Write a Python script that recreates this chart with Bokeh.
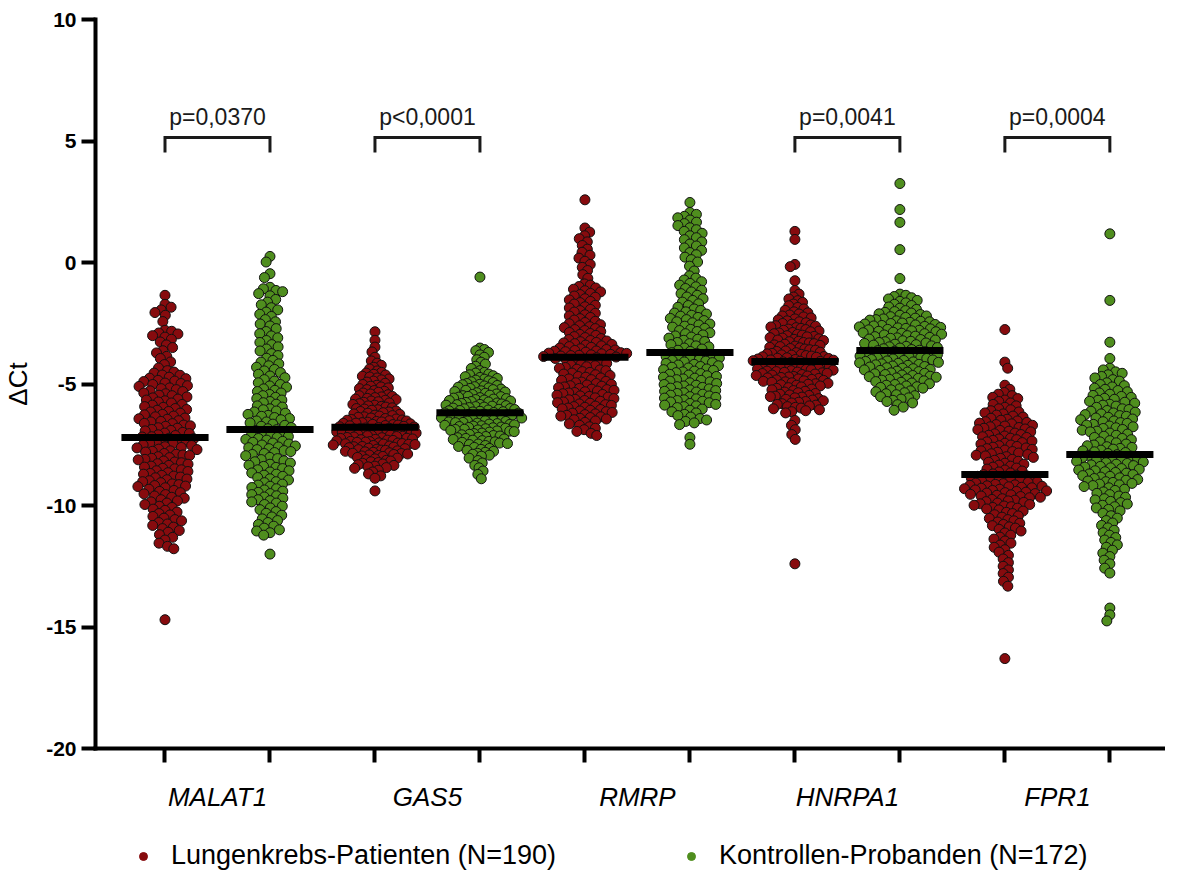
import math
import numpy as np
from bokeh.plotting import figure
from bokeh.layouts import column
from bokeh.models import FixedTicker, Legend, LegendItem
from bokeh.core.properties import value
from bokeh.embed import file_html
from bokeh.resources import INLINE

# ---------------- data (ΔCt values) ----------------
genes = ["MALAT1", "GAS5", "RMRP", "HNRPA1", "FPR1"]
group_labels = ["Lungenkrebs-Patienten (N=190)", "Kontrollen-Probanden (N=172)"]
y_ticks = [-20, -15, -10, -5, 0, 5, 10]

MALAT1_pat = """-1.35 -1.72 -1.84 -1.95 -2.06 -2.17 -2.43
-2.79 -2.83 -2.9 -2.94 -3.01 -3.07 -3.16 -3.27
-3.39 -3.5 -3.63 -3.72 -3.86 -3.95 -4.09 -4.2 -4.34 -4.45
-4.51 -4.55 -4.63 -4.64 -4.72 -4.76 -4.78 -4.85 -4.88 -4.9 -4.96 -4.98
-5.02 -5.07 -5.1 -5.16 -5.19 -5.23 -5.28 -5.31 -5.37 -5.4 -5.46 -5.48 -5.53 -5.57 -5.62 -5.66 -5.69 -5.74 -5.78 -5.84 -5.87 -5.93 -5.96
-6.01 -6.05 -6.08 -6.13 -6.15 -6.2 -6.25 -6.27 -6.32 -6.35 -6.4 -6.43 -6.45 -6.51 -6.54 -6.56 -6.62 -6.63 -6.69 -6.72 -6.74 -6.8 -6.82 -6.87 -6.91 -6.93 -6.99
-7.02 -7.04 -7.09 -7.12 -7.17 -7.18 -7.23 -7.25 -7.31 -7.34 -7.36 -7.41 -7.44 -7.46 -7.51 -7.53 -7.58 -7.61 -7.63 -7.68 -7.7 -7.75 -7.77 -7.8 -7.86 -7.89 -7.92 -7.94 -7.99
-8.03 -8.06 -8.1 -8.12 -8.17 -8.21 -8.24 -8.28 -8.3 -8.35 -8.38 -8.42 -8.47 -8.49 -8.53 -8.57 -8.6 -8.65 -8.68 -8.71 -8.76 -8.79 -8.83 -8.86 -8.91 -8.94 -8.98
-9.02 -9.06 -9.11 -9.14 -9.18 -9.2 -9.22 -9.27 -9.33 -9.38 -9.42 -9.47 -9.52 -9.55 -9.61 -9.66 -9.7 -9.76 -9.81 -9.85 -9.9 -9.96
-10.03 -10.08 -10.15 -10.2 -10.27 -10.33 -10.39 -10.45 -10.52 -10.58 -10.63 -10.7 -10.76 -10.82 -10.89 -10.95
-11.03 -11.1 -11.2 -11.31 -11.42 -11.55 -11.68 -11.78 -14.7"""

MALAT1_ctrl = """0.25 0.02 -0.46 -0.62 -1.02 -1.08 -1.15 -1.2 -1.28 -1.37 -1.52 -1.63 -1.74 -1.86 -1.95
-2.04 -2.13 -2.22 -2.35 -2.44 -2.53 -2.61 -2.72 -2.84 -2.93
-3.02 -3.1 -3.21 -3.29 -3.38 -3.47 -3.56 -3.64 -3.75 -3.83 -3.94
-4.03 -4.1 -4.17 -4.25 -4.31 -4.4 -4.46 -4.53 -4.6 -4.67 -4.74 -4.82 -4.88 -4.95
-5.02 -5.08 -5.13 -5.2 -5.26 -5.31 -5.37 -5.43 -5.48 -5.55 -5.6 -5.66 -5.72 -5.77 -5.83 -5.9 -5.95
-6.02 -6.06 -6.11 -6.15 -6.2 -6.25 -6.29 -6.33 -6.38 -6.42 -6.47 -6.52 -6.56 -6.6 -6.65 -6.7 -6.74 -6.79 -6.84 -6.88 -6.93
-7.01 -7.05 -7.09 -7.12 -7.16 -7.2 -7.24 -7.28 -7.31 -7.36 -7.4 -7.43 -7.47 -7.51 -7.55 -7.59 -7.62 -7.66 -7.7 -7.74 -7.78 -7.82 -7.86 -7.9 -7.95
-8.02 -8.07 -8.11 -8.16 -8.2 -8.25 -8.3 -8.34 -8.39 -8.43 -8.48 -8.53 -8.57 -8.62 -8.66 -8.71 -8.75 -8.8 -8.85 -8.9 -8.95
-9.02 -9.06 -9.12 -9.16 -9.21 -9.26 -9.31 -9.36 -9.41 -9.46 -9.51 -9.55 -9.6 -9.65 -9.7 -9.76 -9.8 -9.85 -9.9 -9.96
-10.03 -10.1 -10.17 -10.25 -10.32 -10.4 -10.47 -10.55 -10.62 -10.7 -10.78 -10.85 -10.93
-11.0 -11.05 -11.12 -11.22 -12.0"""

GAS5_pat = """-2.85 -3.2 -3.48 -3.68 -3.9 -4.05 -4.14 -4.23 -4.31 -4.38 -4.46
-4.52 -4.55 -4.6 -4.63 -4.68 -4.71 -4.75 -4.79 -4.83 -4.88 -4.92 -4.97
-5.02 -5.05 -5.09 -5.12 -5.16 -5.19 -5.23 -5.27 -5.3 -5.34 -5.37 -5.41 -5.44 -5.48
-5.51 -5.53 -5.56 -5.59 -5.62 -5.64 -5.67 -5.7 -5.73 -5.75 -5.78 -5.81 -5.84 -5.87 -5.9 -5.92 -5.95 -5.98
-6.01 -6.03 -6.06 -6.08 -6.11 -6.13 -6.15 -6.18 -6.2 -6.23 -6.25 -6.28 -6.3 -6.32 -6.35 -6.37 -6.4 -6.42 -6.44 -6.46 -6.48 -6.49
-6.51 -6.52 -6.54 -6.56 -6.57 -6.59 -6.61 -6.62 -6.64 -6.66 -6.67 -6.69 -6.71 -6.72 -6.74 -6.76 -6.77 -6.79 -6.81 -6.82 -6.84 -6.85 -6.87 -6.88 -6.9 -6.91 -6.93 -6.94 -6.95 -6.97 -6.98 -6.99
-7.01 -7.02 -7.04 -7.05 -7.07 -7.08 -7.1 -7.12 -7.13 -7.15 -7.16 -7.18 -7.2 -7.21 -7.23 -7.24 -7.26 -7.28 -7.29 -7.31 -7.32 -7.34 -7.36 -7.37 -7.39 -7.4 -7.42 -7.43 -7.45 -7.46 -7.47 -7.48 -7.49
-7.51 -7.53 -7.55 -7.57 -7.58 -7.6 -7.62 -7.64 -7.66 -7.68 -7.7 -7.72 -7.73 -7.75 -7.77 -7.79 -7.81 -7.83 -7.85 -7.86 -7.88 -7.9 -7.92 -7.94 -7.96 -7.98
-8.02 -8.05 -8.08 -8.11 -8.14 -8.17 -8.2 -8.23 -8.26 -8.29 -8.32 -8.35 -8.38 -8.41 -8.44 -8.47
-8.55 -8.62 -8.7 -8.78 -8.88 -9.4"""

GAS5_ctrl = """-0.6 -3.52 -3.58 -3.63 -3.7 -3.8 -3.9 -4.0 -4.1 -4.18 -4.27 -4.36 -4.45
-4.52 -4.55 -4.59 -4.62 -4.66 -4.7 -4.73 -4.77 -4.8 -4.84 -4.87 -4.91 -4.94 -4.98
-5.01 -5.03 -5.06 -5.08 -5.11 -5.13 -5.16 -5.18 -5.21 -5.23 -5.26 -5.28 -5.31 -5.33 -5.36 -5.38 -5.41 -5.43 -5.46 -5.48
-5.51 -5.52 -5.54 -5.56 -5.58 -5.6 -5.62 -5.64 -5.66 -5.68 -5.7 -5.72 -5.74 -5.76 -5.78 -5.8 -5.82 -5.84 -5.85 -5.87 -5.89 -5.91 -5.93 -5.95 -5.97 -5.99
-6.01 -6.02 -6.04 -6.05 -6.07 -6.09 -6.1 -6.12 -6.14 -6.15 -6.17 -6.19 -6.2 -6.22 -6.24 -6.25 -6.27 -6.29 -6.3 -6.32 -6.34 -6.35 -6.37 -6.39 -6.4 -6.42 -6.44 -6.45 -6.47 -6.49
-6.51 -6.52 -6.54 -6.56 -6.58 -6.59 -6.61 -6.63 -6.65 -6.66 -6.68 -6.7 -6.72 -6.73 -6.75 -6.77 -6.79 -6.8 -6.82 -6.84 -6.86 -6.87 -6.89 -6.91 -6.93 -6.94 -6.96 -6.98
-7.02 -7.04 -7.07 -7.09 -7.12 -7.14 -7.16 -7.19 -7.21 -7.24 -7.26 -7.28 -7.31 -7.33 -7.36 -7.38 -7.4 -7.43 -7.45 -7.47 -7.49
-7.53 -7.57 -7.61 -7.65 -7.69 -7.73 -7.77 -7.81 -7.85 -7.89 -7.93 -7.97
-8.05 -8.15 -8.25 -8.35 -8.45 -8.58 -8.72 -8.9"""

RMRP_pat = """2.58 1.42 1.25 1.1 0.98 0.85 0.7 0.55 0.42 0.3 0.18 0.05 -0.08 -0.2 -0.33 -0.5 -0.65
-0.88 -0.93 -0.99 -1.05 -1.1 -1.16 -1.21 -1.27 -1.32 -1.38 -1.43 -1.49 -1.54 -1.6 -1.65 -1.71 -1.76 -1.82 -1.87 -1.93 -1.98 -2.04 -2.09 -2.15 -2.2 -2.26 -2.31 -2.37 -2.42 -2.47
-2.52 -2.56 -2.6 -2.64 -2.68 -2.72 -2.76 -2.8 -2.84 -2.88 -2.92 -2.96 -3.0 -3.05 -3.09 -3.13 -3.17
-3.21 -3.23 -3.26 -3.29 -3.31 -3.34 -3.37 -3.4 -3.43 -3.46 -3.49 -3.52 -3.55 -3.58
-3.6 -3.62 -3.64 -3.65 -3.67 -3.69 -3.71 -3.73 -3.74 -3.76 -3.78 -3.8 -3.82 -3.83 -3.85 -3.87 -3.89
-3.92 -3.95 -3.98 -4.02 -4.05 -4.08 -4.12 -4.15 -4.19 -4.22 -4.25 -4.29 -4.32 -4.35 -4.39 -4.42 -4.45 -4.49 -4.52 -4.55 -4.59 -4.62 -4.65 -4.69 -4.72 -4.75 -4.79 -4.82 -4.85 -4.89 -4.92 -4.95 -4.98
-5.01 -5.04 -5.07 -5.09 -5.12 -5.15 -5.18 -5.21 -5.23 -5.26 -5.29 -5.32 -5.35 -5.37 -5.4 -5.43 -5.46 -5.49 -5.51 -5.54 -5.57 -5.6 -5.63 -5.65 -5.68 -5.71 -5.74 -5.77 -5.79 -5.82 -5.85 -5.88 -5.91 -5.93 -5.96 -5.99
-6.02 -6.05 -6.08 -6.11 -6.14 -6.17 -6.2 -6.23 -6.26 -6.29 -6.32 -6.35 -6.38 -6.41 -6.44 -6.47
-6.52 -6.58 -6.64 -6.7 -6.76 -6.82 -6.88 -6.95 -7.03 -7.12"""

RMRP_ctrl = """2.47 2.06 1.98 1.9 1.84 1.75 1.66 1.6 1.52 1.43 1.35 1.28 1.2 1.1 1.02 0.94 0.85 0.76 0.68 0.6 0.5 0.41 0.32 0.22 0.12 0.02 -0.15 -0.35 -0.55
-0.64 -0.72 -0.79 -0.86 -0.93 -1.0 -1.07 -1.14 -1.21 -1.28 -1.35 -1.42 -1.49 -1.56 -1.63 -1.7 -1.77 -1.84 -1.91 -1.97 -2.03 -2.08
-2.12 -2.17 -2.21 -2.26 -2.3 -2.35 -2.39 -2.44 -2.48 -2.53 -2.57 -2.62 -2.66 -2.71 -2.75 -2.8 -2.84 -2.89 -2.93 -2.98 -3.02 -3.07 -3.11 -3.16 -3.2 -3.25 -3.29 -3.34 -3.38 -3.43 -3.47 -3.52 -3.56 -3.61 -3.66
-3.71 -3.74 -3.77 -3.81 -3.84 -3.87 -3.9 -3.93 -3.96 -4.0 -4.03 -4.06 -4.09 -4.12 -4.15 -4.19 -4.22 -4.25 -4.28 -4.31 -4.34 -4.38 -4.41 -4.44 -4.47 -4.5 -4.53 -4.57 -4.6 -4.63 -4.66 -4.69 -4.72 -4.76 -4.79 -4.82 -4.85 -4.88 -4.91 -4.95 -4.98
-5.02 -5.05 -5.08 -5.11 -5.14 -5.17 -5.2 -5.24 -5.27 -5.3 -5.33 -5.36 -5.39 -5.42 -5.46 -5.49 -5.52 -5.55 -5.58 -5.61 -5.65 -5.68 -5.71 -5.74 -5.77 -5.8 -5.84 -5.87 -5.9 -5.93 -5.97
-6.03 -6.08 -6.14 -6.19 -6.25 -6.3 -6.36 -6.42 -6.48 -6.54 -6.6 -6.67 -7.2 -7.48"""

HNRPA1_pat = """1.28 0.95 -0.08 -0.17 -0.75 -1.15 -1.3 -1.42
-1.5 -1.57 -1.64 -1.71 -1.78 -1.85 -1.91 -1.97
-2.03 -2.07 -2.12 -2.16 -2.2 -2.24 -2.28 -2.32 -2.36 -2.4 -2.44 -2.48
-2.51 -2.54 -2.57 -2.6 -2.62 -2.65 -2.68 -2.71 -2.74 -2.76 -2.79 -2.82 -2.85 -2.88 -2.9 -2.93 -2.96 -2.99
-3.01 -3.04 -3.06 -3.09 -3.11 -3.14 -3.16 -3.19 -3.21 -3.24 -3.26 -3.29 -3.31 -3.34 -3.36 -3.39 -3.41 -3.44 -3.46 -3.49 -3.51 -3.54 -3.56 -3.59 -3.61 -3.64 -3.66 -3.69 -3.71 -3.74
-3.76 -3.78 -3.8 -3.81 -3.83 -3.85 -3.87 -3.88 -3.9 -3.92 -3.94 -3.95 -3.97 -3.99 -4.01 -4.02 -4.04 -4.06 -4.07 -4.09
-4.11 -4.13 -4.15 -4.16 -4.18 -4.2 -4.22 -4.24 -4.25 -4.27 -4.29 -4.31 -4.33 -4.34 -4.36 -4.38 -4.4 -4.42 -4.43 -4.45 -4.47 -4.49 -4.51 -4.52 -4.54 -4.56 -4.57 -4.59
-4.61 -4.63 -4.65 -4.67 -4.69 -4.71 -4.73 -4.75 -4.77 -4.79 -4.81 -4.83 -4.85 -4.87 -4.89 -4.91 -4.93 -4.95 -4.97 -4.99 -5.01 -5.03 -5.05 -5.08
-5.12 -5.15 -5.18 -5.21 -5.24 -5.27 -5.3 -5.33 -5.36 -5.39 -5.42 -5.45 -5.47 -5.5 -5.52 -5.54
-5.57 -5.6 -5.63 -5.66 -5.69 -5.72 -5.75 -5.78 -5.81 -5.84 -5.87 -5.9 -5.93 -5.96 -5.99 -6.02 -6.06 -6.1 -6.14 -6.19
-6.5 -6.7 -6.88 -7.08 -7.28 -12.4"""

HNRPA1_ctrl = """3.25 2.18 1.65 0.53 -0.66
-1.3 -1.35 -1.4 -1.45 -1.5 -1.56 -1.6 -1.66 -1.72 -1.77 -1.83 -1.88 -1.93 -1.98
-2.02 -2.05 -2.08 -2.11 -2.14 -2.17 -2.2 -2.23 -2.26 -2.29 -2.32 -2.35 -2.37 -2.4 -2.42 -2.44 -2.46 -2.49
-2.51 -2.53 -2.55 -2.57 -2.59 -2.61 -2.63 -2.65 -2.67 -2.69 -2.71 -2.73 -2.75 -2.77 -2.79 -2.81 -2.83 -2.85 -2.87 -2.89 -2.91 -2.93 -2.95 -2.98
-3.01 -3.03 -3.05 -3.08 -3.1 -3.12 -3.15 -3.17 -3.19 -3.22 -3.24 -3.26 -3.29 -3.31 -3.33 -3.36 -3.38 -3.4 -3.43 -3.45 -3.47 -3.5 -3.52 -3.55 -3.58
-3.61 -3.63 -3.65 -3.67 -3.69 -3.71 -3.73 -3.75 -3.77 -3.79 -3.81 -3.83 -3.85 -3.87 -3.89 -3.91 -3.93 -3.95 -3.97 -3.99 -4.01 -4.03 -4.05 -4.07 -4.09 -4.11 -4.13 -4.15 -4.17 -4.19
-4.21 -4.23 -4.26 -4.28 -4.3 -4.33 -4.35 -4.37 -4.4 -4.42 -4.44 -4.47 -4.49 -4.51 -4.54 -4.56 -4.58 -4.61 -4.63 -4.65 -4.68 -4.7 -4.72 -4.75 -4.77 -4.79 -4.81 -4.84
-4.87 -4.9 -4.93 -4.96 -4.99 -5.02 -5.05 -5.08 -5.11 -5.14 -5.17 -5.2 -5.24 -5.28 -5.32 -5.36 -5.4 -5.44 -5.48 -5.52 -5.57 -5.62 -5.67 -5.72 -5.78 -5.85 -5.95 -6.08"""

FPR1_pat = """-2.76 -4.1 -4.35 -5.05 -5.22 -5.35
-5.42 -5.48 -5.55 -5.6 -5.66 -5.72 -5.78 -5.84 -5.9 -5.96
-6.02 -6.06 -6.1 -6.15 -6.19 -6.23 -6.28 -6.32 -6.36 -6.41 -6.45 -6.49
-6.52 -6.55 -6.58 -6.61 -6.64 -6.67 -6.7 -6.73 -6.76 -6.79 -6.82 -6.85 -6.88 -6.91 -6.94 -6.97
-7.02 -7.05 -7.08 -7.11 -7.14 -7.17 -7.2 -7.23 -7.26 -7.29 -7.32 -7.35 -7.38 -7.41 -7.44 -7.47
-7.51 -7.54 -7.57 -7.6 -7.63 -7.66 -7.69 -7.72 -7.75 -7.78 -7.81 -7.84 -7.87 -7.9 -7.93 -7.96 -7.99
-8.02 -8.06 -8.1 -8.14 -8.18 -8.22 -8.26 -8.3 -8.34 -8.38 -8.42 -8.46 -8.5 -8.54 -8.58 -8.62 -8.66 -8.7
-8.73 -8.75 -8.78 -8.8 -8.83 -8.85 -8.88 -8.9 -8.93 -8.95 -8.98 -9.0 -9.03 -9.05 -9.08 -9.1 -9.13 -9.15 -9.17 -9.19
-9.21 -9.23 -9.25 -9.27 -9.29 -9.31 -9.33 -9.36 -9.38 -9.4 -9.42 -9.45 -9.47 -9.49 -9.51 -9.54 -9.56 -9.58 -9.61 -9.63 -9.66 -9.68
-9.72 -9.75 -9.78 -9.81 -9.84 -9.87 -9.9 -9.93 -9.96 -9.99 -10.02 -10.05 -10.08 -10.11 -10.14 -10.18
-10.23 -10.28 -10.33 -10.38 -10.43 -10.48 -10.53 -10.58 -10.63 -10.68 -10.73 -10.78 -10.83 -10.88 -10.93 -10.98
-11.05 -11.13 -11.22 -11.3 -11.38 -11.46 -11.55 -11.63 -11.72 -11.82
-11.92 -12.05 -12.2 -12.35 -12.5 -12.65 -12.8 -12.95 -13.12 -13.32 -16.3"""

FPR1_ctrl = """1.18 -1.56 -3.28 -3.95
-4.35 -4.42 -4.5 -4.56 -4.62 -4.69 -4.75 -4.82 -4.88 -4.95
-5.02 -5.07 -5.12 -5.17 -5.22 -5.27 -5.32 -5.37 -5.42 -5.47
-5.51 -5.55 -5.59 -5.63 -5.67 -5.71 -5.75 -5.79 -5.83 -5.87 -5.91 -5.96
-6.02 -6.05 -6.09 -6.12 -6.16 -6.19 -6.23 -6.26 -6.3 -6.33 -6.37 -6.4 -6.44 -6.47
-6.52 -6.55 -6.59 -6.62 -6.66 -6.69 -6.73 -6.76 -6.8 -6.83 -6.87 -6.9 -6.94 -6.97
-7.02 -7.06 -7.11 -7.15 -7.2 -7.24 -7.29 -7.33 -7.38 -7.42 -7.47
-7.51 -7.54 -7.58 -7.61 -7.65 -7.68 -7.72 -7.75 -7.79 -7.82 -7.86
-7.91 -7.94 -7.97 -8.0 -8.03 -8.06 -8.09 -8.12 -8.15 -8.18 -8.21 -8.24 -8.27 -8.3 -8.33 -8.36 -8.39 -8.42 -8.45 -8.48
-8.51 -8.54 -8.57 -8.61 -8.64 -8.67 -8.7 -8.73 -8.77 -8.8 -8.83 -8.86 -8.89 -8.93 -8.96 -8.99 -9.02 -9.05 -9.09 -9.12 -9.15 -9.18
-9.22 -9.27 -9.33 -9.38 -9.44 -9.5 -9.55 -9.61 -9.66 -9.72 -9.77 -9.83 -9.88 -9.94 -9.99 -10.05 -10.1 -10.16
-10.22 -10.32 -10.42 -10.52 -10.62 -10.72 -10.82 -10.92 -11.02 -11.12 -11.22 -11.32 -11.42 -11.52 -11.62 -11.72 -11.84 -11.96 -12.1 -12.25 -12.4 -12.58 -12.78
-14.22 -14.5 -14.75"""

# medians (black bars)
median_pat = [-7.2, -6.78, -3.9, -4.07, -8.72]
median_ctrl = [-6.87, -6.18, -3.7, -3.62, -7.9]

# significance brackets
p_genes = ["MALAT1", "GAS5", "HNRPA1", "FPR1"]
p_texts = ["p=0,0370", "p<0,0001", "p=0,0041", "p=0,0004"]

pat_data = [MALAT1_pat, GAS5_pat, RMRP_pat, HNRPA1_pat, FPR1_pat]
ctrl_data = [MALAT1_ctrl, GAS5_ctrl, RMRP_ctrl, HNRPA1_ctrl, FPR1_ctrl]

# ---------------- style / layout ----------------
RED = "#870b0e"
GREEN = "#4f8e1e"
FONT = "Liberation Sans"

W = 1165
BL, BT, BB = 88, 19, 70
FRAME_H = 729
H1 = BT + FRAME_H + BB
X0, X1 = 0.338, 10.53
XS = (W - BL) / (X1 - X0)       # px per x unit
YS = FRAME_H / 30.0              # px per y unit
D = 6.8                          # min distance between point centres (px)
MAXW = 42.0                      # max half-width of a swarm (px)


def swarm_offsets(vals):
    """Beeswarm layout in screen pixels -> x offsets in data units."""
    vals = np.asarray(vals, dtype=float)
    order = np.argsort(-vals)
    px_list, py_list = [], []
    offs = np.zeros(len(vals))
    for k, i in enumerate(order):
        y = vals[i] * YS
        intervals = []
        for qx, qy in zip(px_list, py_list):
            dy = abs(qy - y)
            if dy < D:
                w = math.sqrt(D * D - dy * dy)
                intervals.append((qx - w, qx + w))
        cands = [0.0] + [a for a, b in intervals] + [b for a, b in intervals]
        sgn = 1 if k % 2 == 0 else -1
        cands.sort(key=lambda c: (round(abs(c), 6), -sgn * c))
        chosen = 0.0
        for c in cands:
            if all(not (a + 1e-6 < c < b - 1e-6) for a, b in intervals):
                chosen = c
                break
        px_list.append(chosen)
        py_list.append(y)
        offs[i] = chosen
    m = np.abs(offs).max()
    if m > MAXW:
        offs = offs * (MAXW / m)
    return offs / XS


p = figure(width=W, height=H1, x_range=(X0, X1), y_range=(-20, 10),
           output_backend="svg", toolbar_location=None,
           min_border_left=BL, min_border_right=0, min_border_top=BT,
           min_border_bottom=BB)
p.xgrid.visible = False
p.ygrid.visible = False
p.outline_line_color = None
p.background_fill_color = "white"

for gi, gene in enumerate(genes):
    for kind, src, color in (("pat", pat_data[gi], RED), ("ctrl", ctrl_data[gi], GREEN)):
        vals = [float(v) for v in src.split()]
        pos = 2 * gi + 1 if kind == "pat" else 2 * gi + 2
        xs = pos + swarm_offsets(vals)
        p.scatter(xs, vals, size=10, fill_color=color, line_color="#111111",
                  line_width=1)

# median bars
for gi in range(len(genes)):
    for pos, m in ((2 * gi + 1, median_pat[gi]), (2 * gi + 2, median_ctrl[gi])):
        p.segment(x0=[pos - 0.415], x1=[pos + 0.415], y0=[m], y1=[m],
                  line_width=7, line_color="black")

# significance brackets
for g, t in zip(p_genes, p_texts):
    gi = genes.index(g)
    a, b = 2 * gi + 1, 2 * gi + 2
    p.multi_line(xs=[[a, a, b, b]], ys=[[4.53, 5.14, 5.14, 4.53]],
                 line_width=3, line_color="#1a1a1a", line_join="miter")
    p.text(x=[(a + b) / 2], y=[6.0], text=[t], text_font=value(FONT),
           text_font_size="23px", text_align="center",
           text_baseline="alphabetic", text_color="#1a1a1a")

# y axis
ya = p.yaxis[0]
ya.ticker = FixedTicker(ticks=y_ticks, minor_ticks=[])
ya.major_label_overrides = {t: str(t) for t in y_ticks}
ya.axis_line_width = 4
ya.axis_line_cap = "square"
ya.major_tick_line_width = 4
ya.major_tick_out = 14
ya.major_tick_in = 0
ya.minor_tick_line_color = None
ya.major_label_text_font = FONT
ya.major_label_text_font_style = "bold"
ya.major_label_text_font_size = "21px"
ya.major_label_text_color = "black"
ya.major_label_standoff = 5
ya.axis_label = "ΔCt"
ya.axis_label_text_font = FONT
ya.axis_label_text_font_style = "normal"
ya.axis_label_text_font_size = "26px"
ya.axis_label_text_color = "black"
ya.axis_label_standoff = 10

# x axis: ticks at each group, gene names between pairs
xa = p.xaxis[0]
xa.ticker = FixedTicker(ticks=[2 * i + 1.5 for i in range(len(genes))],
                        minor_ticks=list(range(1, 2 * len(genes) + 1)))
xa.major_label_overrides = {2 * i + 1.5: g for i, g in enumerate(genes)}
xa.axis_line_width = 4
xa.axis_line_cap = "square"
xa.major_tick_line_color = None
xa.major_tick_out = 0
xa.major_tick_in = 0
xa.minor_tick_line_color = "black"
xa.minor_tick_line_width = 4
xa.minor_tick_out = 14
xa.minor_tick_in = 0
xa.major_label_text_font = FONT
xa.major_label_text_font_style = "italic"
xa.major_label_text_font_size = "26px"
xa.major_label_text_color = "black"
xa.major_label_standoff = 19

# ---------------- legend strip below the chart ----------------
H2 = 60
leg = figure(width=W, height=H2, x_range=(0, 1), y_range=(0, 1),
             output_backend="svg", toolbar_location=None,
             x_axis_location=None, y_axis_location=None, min_border=0)
leg.xgrid.visible = False
leg.ygrid.visible = False
leg.outline_line_color = None
# legend swatches (kept outside the visible range of this strip)
r_leg_pat = leg.scatter(x=[-5], y=[-5], size=8, fill_color=RED,
                        line_color=RED, line_width=1)
r_leg_ctrl = leg.scatter(x=[-5], y=[-5], size=8, fill_color=GREEN,
                         line_color=GREEN, line_width=1)
legend = Legend(items=[LegendItem(label=group_labels[0], renderers=[r_leg_pat]),
                       LegendItem(label=group_labels[1], renderers=[r_leg_ctrl])],
                orientation="horizontal", location=(38, 7), margin=0,
                padding=0, spacing=125, glyph_width=20, glyph_height=20,
                label_standoff=18, label_text_font=FONT,
                label_text_font_size="27px", label_text_color="black",
                border_line_color=None, background_fill_alpha=0)
leg.add_layout(legend)

layout = column(p, leg, spacing=0)
open("out.html", "w").write(file_html(layout, INLINE))
